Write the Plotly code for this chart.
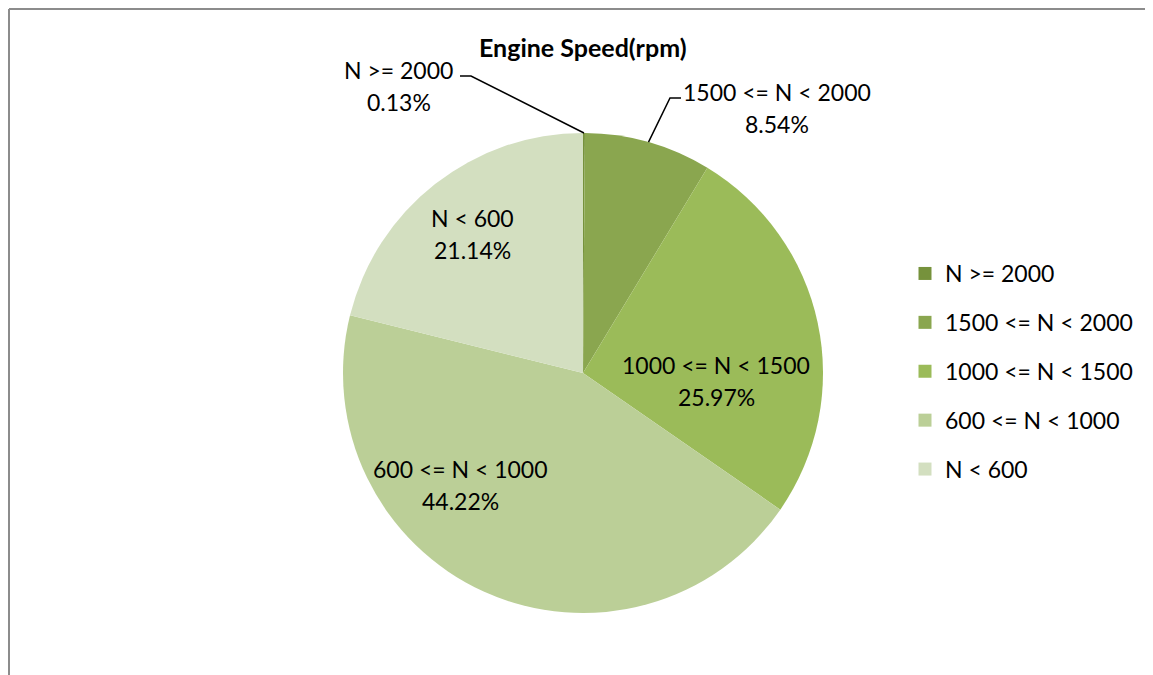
import math
import plotly.graph_objects as go

# page body has an 8px margin; figure is shifted by OFF, so map reference pixels accordingly
W, H = 1153, 675
OFF = 8
FW, FH = W - OFF, H - OFF

# ---- data ----
categories = ["N >= 2000", "1500 <= N < 2000", "1000 <= N < 1500", "600 <= N < 1000", "N < 600"]
shares = [0.13, 8.54, 25.97, 44.22, 21.14]
colors = ["#76923C", "#8AA64F", "#9BBB59", "#BBCF97", "#D3DFC0"]
title_text = "Engine Speed(rpm)"

FONT = "Lato, 'Open Sans', sans-serif"
FS = 23

# pie geometry (reference pixels)
CX, CY, R = 583, 373, 240


def px(x):
    return (x - OFF) / FW


def py(y):
    return 1 - (y - OFF) / FH


fig = go.Figure()
fig.add_trace(go.Pie(
    labels=categories, values=shares, sort=False, direction="clockwise", rotation=0,
    marker=dict(colors=colors, line=dict(width=0)),
    textinfo="none", hoverinfo="label+percent", showlegend=False,
    domain=dict(x=[px(CX - R), px(CX + R)], y=[py(CY + R), py(CY - R)]),
))

# legend via dummy traces (one group each, for spacing)
for i, (c, col) in enumerate(zip(categories, colors)):
    fig.add_trace(go.Scatter(
        x=[None], y=[None], mode="markers", name=c, legendgroup=f"g{i}",
        marker=dict(symbol="square", size=13, color=col),
        showlegend=True, hoverinfo="skip",
    ))

# label positions (pixel centres of the name line) per slice
label_pos = [(399, 70, "left"), (777, 92, "right"), (716, 365, None), (460, 469, None), (472, 218, None)]
annotations = []
shapes = []
total = sum(shares)
cum = 0.0
for (cat, v, (lx, ly, lead)) in zip(categories, shares, label_pos):
    mid = (cum + v / 2) / total * 2 * math.pi
    cum += v
    annotations.append(dict(x=px(lx), y=py(ly), xref="paper", yref="paper", text=cat,
                            showarrow=False, xanchor="center", yanchor="middle",
                            font=dict(family=FONT, size=FS, color="#000000")))
    annotations.append(dict(x=px(lx), y=py(ly + 32), xref="paper", yref="paper", text=f"{v:.2f}%",
                            showarrow=False, xanchor="center", yanchor="middle",
                            font=dict(family=FONT, size=FS, color="#000000")))
    if lead:
        ex = CX + R * math.sin(mid)
        ey = CY - R * math.cos(mid)
        if lead == "left":
            kx, ky, tx = 471, 76, 460
        else:
            kx, ky, tx = 670, 98, 681
        path = f"M {px(ex)},{py(ey)} L {px(kx)},{py(ky)} L {px(tx)},{py(ky)}"
        shapes.append(dict(type="path", xref="paper", yref="paper", path=path,
                           line=dict(color="#000000", width=1.5)))

# chart-area border (top and left edges visible)
shapes.append(dict(type="line", xref="paper", yref="paper", x0=px(9), y0=py(9), x1=1, y1=py(9),
                   line=dict(color="#8C8C8C", width=2)))
shapes.append(dict(type="line", xref="paper", yref="paper", x0=px(9), y0=py(9), x1=px(9), y1=0,
                   line=dict(color="#8C8C8C", width=2)))

annotations.append(dict(x=px(CX), y=py(47), xref="paper", yref="paper", text=f"<b>{title_text}</b>",
                        showarrow=False, xanchor="center", yanchor="middle",
                        font=dict(family=FONT, size=25, color="#000000")))

fig.update_layout(
    width=FW, height=FH,
    margin=dict(l=0, r=0, t=0, b=0),
    paper_bgcolor="#FFFFFF", plot_bgcolor="#FFFFFF",
    xaxis=dict(visible=False), yaxis=dict(visible=False),
    showlegend=True,
    legend=dict(x=px(905), y=py(252), xanchor="left", yanchor="top",
                font=dict(family=FONT, size=FS, color="#000000"),
                tracegroupgap=16, itemsizing="trace", bgcolor="rgba(0,0,0,0)"),
    annotations=annotations, shapes=shapes,
)

fig.write_html("out.html")
